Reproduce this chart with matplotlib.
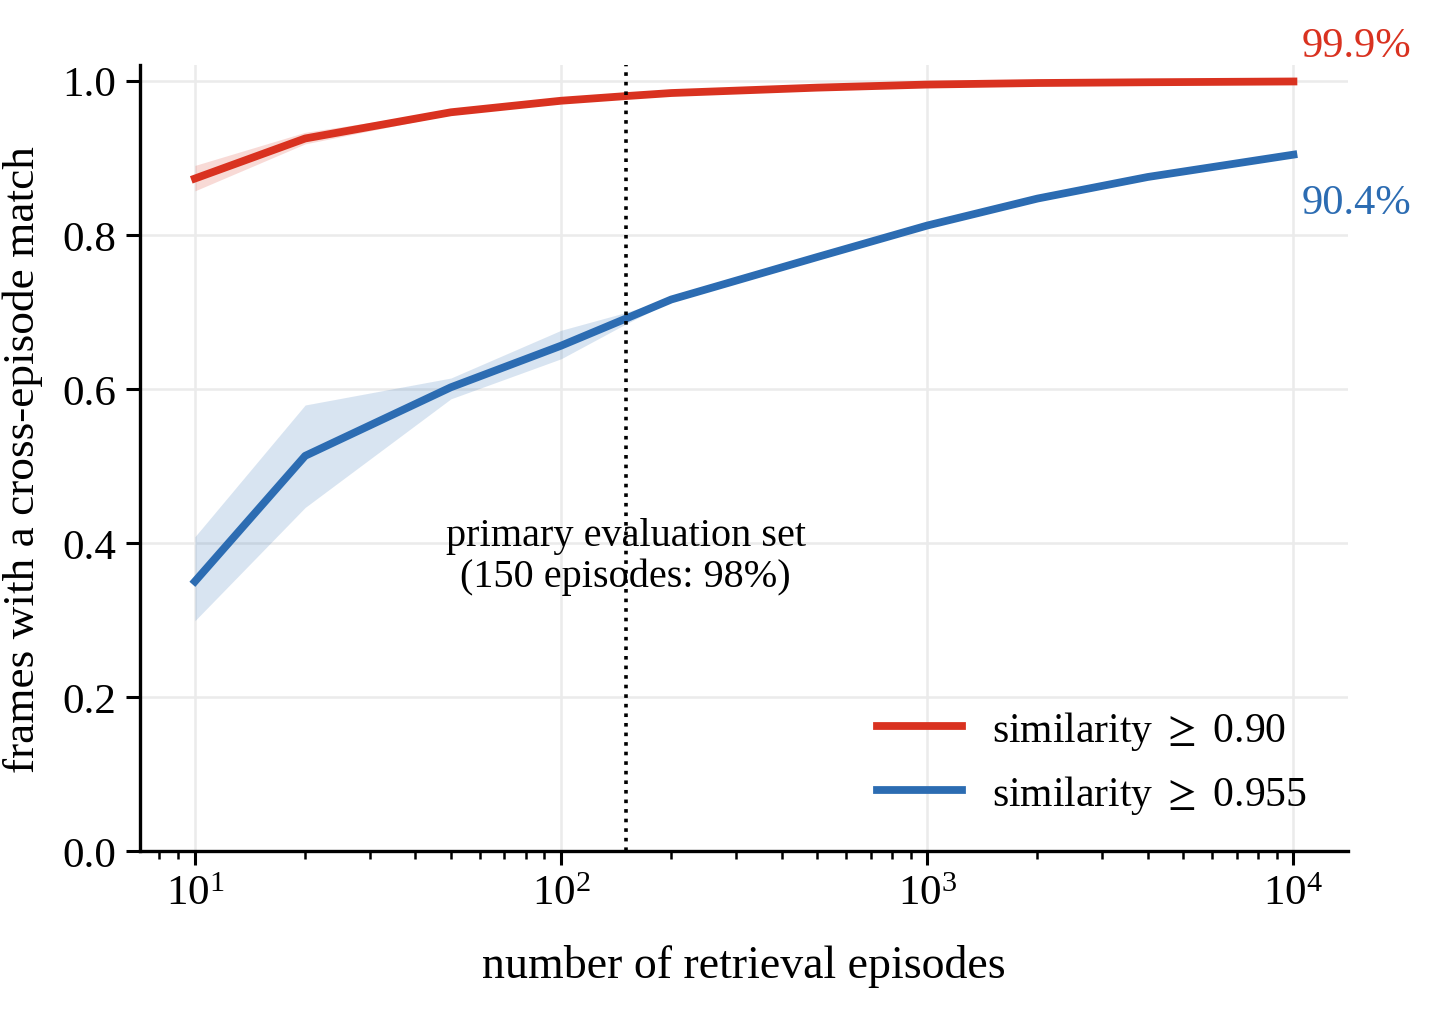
import matplotlib
matplotlib.use("Agg")
import matplotlib.pyplot as plt

plt.rcParams['font.family'] = ['Liberation Serif', 'DejaVu Serif']
plt.rcParams['mathtext.fontset'] = 'stix'

# data
episodes = [10, 20, 50, 100, 150, 200, 500, 1000, 2000, 4000, 10000]
red_mean = [0.873, 0.925, 0.959, 0.974, 0.980, 0.984, 0.991, 0.995, 0.997, 0.998, 0.999]
red_lo = [0.857, 0.918, 0.956, 0.972, 0.979, 0.983, 0.990, 0.994, 0.996, 0.997, 0.998]
red_hi = [0.890, 0.933, 0.962, 0.976, 0.981, 0.985, 0.992, 0.996, 0.998, 0.999, 1.000]
blue_mean = [0.350, 0.513, 0.602, 0.656, 0.691, 0.716, 0.771, 0.812, 0.847, 0.875, 0.904]
blue_lo = [0.299, 0.446, 0.587, 0.639, 0.684, 0.714, 0.770, 0.811, 0.846, 0.874, 0.903]
blue_hi = [0.408, 0.579, 0.614, 0.676, 0.699, 0.718, 0.772, 0.813, 0.848, 0.876, 0.905]
labels = ['similarity $\\geq$ 0.90', 'similarity $\\geq$ 0.955']
end_labels = ['99.9%', '90.4%']
primary_n = 150

red = '#d93220'
blue = '#2c6cb2'

fig = plt.figure(figsize=(7.195, 5.1), dpi=200)
ax = fig.add_axes([0.0973, 0.1647, 0.8397, 0.7703])

ax.fill_between(episodes, red_lo, red_hi, color=red, alpha=0.18, lw=0)
ax.fill_between(episodes, blue_lo, blue_hi, color=blue, alpha=0.18, lw=0)
ax.plot(episodes, red_mean, color=red, lw=2.8, label=labels[0])
ax.plot(episodes, blue_mean, color=blue, lw=2.8, label=labels[1])

ax.axvline(primary_n, color='black', ls=':', lw=1.3)
ax.text(primary_n, 0.383, 'primary evaluation set\n(150 episodes: 98%)',
        ha='center', va='center', fontsize=14.5, linespacing=1.1)

ax.text(10500, red_mean[-1] + 0.047, end_labels[0], color=red, fontsize=15.3,
        ha='left', va='center', clip_on=False)
ax.text(10500, blue_mean[-1] - 0.062, end_labels[1], color=blue, fontsize=15.3,
        ha='left', va='center', clip_on=False)

ax.set_xscale('log')
ax.set_xlim(10 ** 0.85, 10 ** 4.15)
ax.set_ylim(0, 1.02)
ax.set_yticks([0, 0.2, 0.4, 0.6, 0.8, 1.0])
ax.set_yticklabels(['0.0', '0.2', '0.4', '0.6', '0.8', '1.0'])
ax.grid(True, which='major', color='#ebebeb', lw=0.9)
ax.set_axisbelow(True)

for s in ['top', 'right']:
    ax.spines[s].set_visible(False)
ax.spines['left'].set_linewidth(1.2)
ax.spines['bottom'].set_linewidth(1.2)
ax.tick_params(which='major', length=5, width=1.1, labelsize=15.5)
ax.tick_params(which='minor', length=2.8, width=0.9)

ax.set_xlabel('number of retrieval episodes', fontsize=16.5, labelpad=11)
ax.set_ylabel('frames with a cross-episode match', fontsize=16.3, labelpad=7)

ax.legend(loc='lower right', frameon=False, fontsize=15, handlelength=2.05,
          handletextpad=0.72, labelspacing=0.5, bbox_to_anchor=(0.997, -0.003))

fig.savefig('out.png', dpi=200)
